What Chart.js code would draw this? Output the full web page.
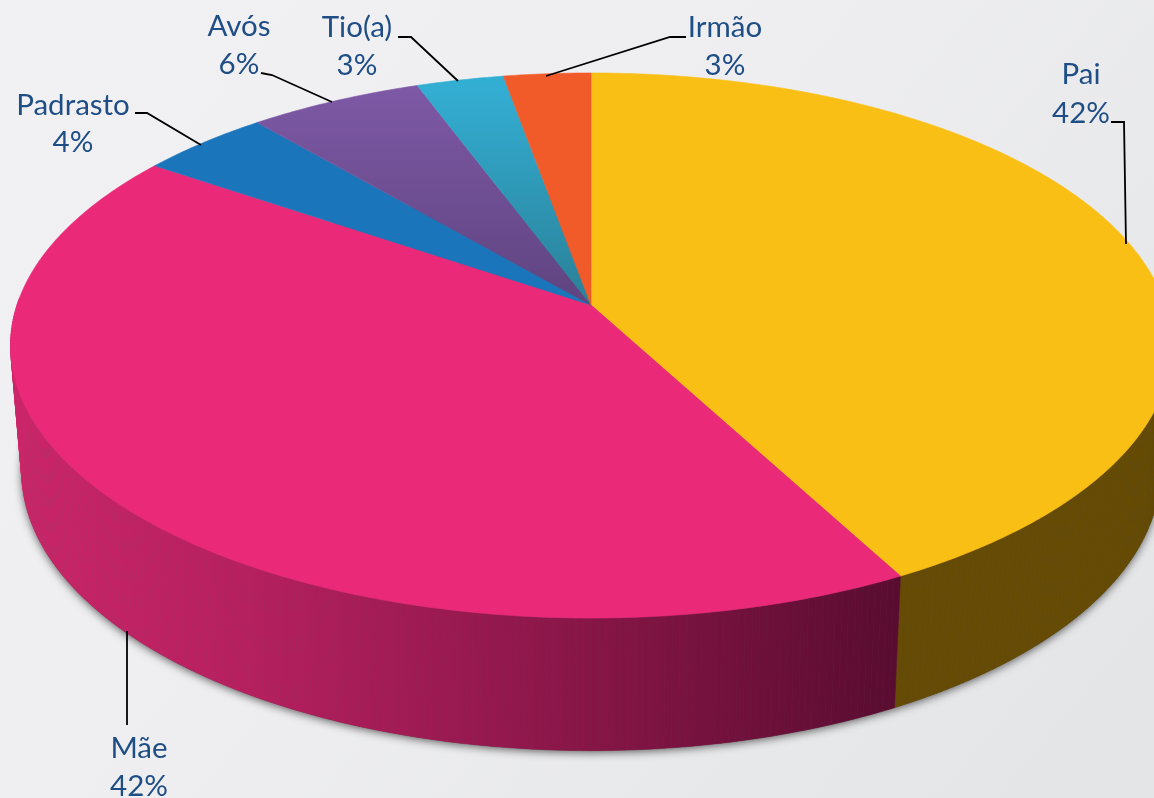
<!DOCTYPE html>
<html><head><meta charset="utf-8">
<style>html,body{margin:0;padding:0;background:#eeeef0}#w{width:1154px;height:798px;position:relative}</style>
<script src="https://cdn.jsdelivr.net/npm/chart.js@4"></script>
</head><body><div id="w"><canvas id="c"></canvas></div>
<script>
const categories = ['Pai','Mãe','Padrasto','Avós','Tio(a)','Irmão'];
const values = [42.2,42.3,4.2,5.6,2.8,2.8];
const percentLabels = ['42%','42%','4%','6%','3%','3%'];
const sliceColors = ['#fabf14','#ea2979','#1b75bb','#7e59a6','#33aed3','#f15a29'];
const sliceColorsLow = ['#fabf14','#ea2979','#1b75bb','#5f4480','#2a8098','#f15a29'];

const top3d = {cx:591, cy:305, a:574, b:266.5, k:0.1486};
const low3d = {cx:591, cy:430, a:563, b:273, k:0.1486};
function project(p, ang){
  const u=Math.cos(ang), v=-Math.sin(ang), w=1+p.k*v;
  return [p.cx+p.a*u/w, p.cy-p.b*v/w];
}
function stepAngles(s,e){
  const n=Math.max(4,Math.ceil((e-s)*90)), r=[];
  for(let i=0;i<=n;i++) r.push(s+(e-s)*i/n);
  return r;
}
function arcPts(p,s,e){ return stepAngles(s,e).map(t=>project(p,t)); }
const labelBoxes = [
  {x:1081,y:[74,113],line:[[1111,122],[1124,122],[1126,244]]},
  {x:139,y:[748,786],line:[[127,631],[127,725]]},
  {x:73,y:[105,142],line:[[135,113],[147,113],[201,145]]},
  {x:239,y:[26,64],line:[[261,73],[272,75],[332,102]]},
  {x:357,y:[27,65],line:[[398,37],[411,37],[458,81]]},
  {x:725,y:[27,65],line:[[686,37],[670,37],[546,76]]}
];
const pie3d = {
  id:'pie3d',
  beforeDraw(chart){
    const c=chart.ctx, g=c.createLinearGradient(100,0,1054,798);
    g.addColorStop(0,'#f1f1f3'); g.addColorStop(.45,'#eeeef0'); g.addColorStop(1,'#e4e5e7');
    c.save(); c.fillStyle=g; c.fillRect(0,0,chart.width,chart.height); c.restore();
  },
  beforeDatasetDraw(chart,args){
    const c=chart.ctx, arcs=chart.getDatasetMeta(args.index).data;
    c.save();
    // soft shadow under the disc
    c.save();
    c.shadowColor='rgba(50,50,50,.75)'; c.shadowBlur=9; c.shadowOffsetY=2; c.fillStyle='#555';
    c.beginPath(); arcPts(low3d,0,Math.PI*2).forEach((q,i)=>i?c.lineTo(q[0],q[1]):c.moveTo(q[0],q[1])); c.closePath(); c.fill();
    c.restore();
    // walls: front-facing thin quads of each slice
    arcs.forEach((el,i)=>{
      const angs=stepAngles(el.startAngle,el.endAngle);
      let fill='#654b05';
      if(i===1){
        const g=c.createLinearGradient(10,0,893,0);
        g.addColorStop(0,'#cb2569'); g.addColorStop(.27,'#b5205f');
        g.addColorStop(.6,'#8e174a'); g.addColorStop(1,'#5a0c30');
        fill=g;
      } else if(i>1) fill=sliceColorsLow[i];
      c.fillStyle=fill; c.strokeStyle=fill; c.lineWidth=.5;
      for(let j=0;j<angs.length-1;j++){
        if(Math.sin(angs[j])<-0.02 && Math.sin(angs[j+1])<-0.02) continue;
        const t0=project(top3d,angs[j]),t1=project(top3d,angs[j+1]),l0=project(low3d,angs[j]),l1=project(low3d,angs[j+1]);
        c.beginPath();
        c.moveTo(t0[0],t0[1]); c.lineTo(t1[0],t1[1]);
        c.lineTo(l1[0],l1[1]); c.lineTo(l0[0],l0[1]);
        c.closePath(); c.fill(); c.stroke();
      }
    });
    // top face
    arcs.forEach((el,i)=>{
      const g=c.createLinearGradient(0,85,0,305);
      g.addColorStop(0,sliceColors[i]); g.addColorStop(1,sliceColorsLow[i]);
      c.fillStyle=g; c.strokeStyle=g; c.lineWidth=.6;
      c.beginPath(); c.moveTo(top3d.cx,top3d.cy);
      arcPts(top3d,el.startAngle,el.endAngle).forEach(q=>c.lineTo(q[0],q[1]));
      c.closePath(); c.fill(); c.stroke();
    });
    // leaders and labels
    c.strokeStyle='#000'; c.lineWidth=1.8; c.lineJoin='miter';
    labelBoxes.forEach(b=>{
      c.beginPath(); b.line.forEach((q,j)=>j?c.lineTo(q[0],q[1]):c.moveTo(q[0],q[1])); c.stroke();
    });
    c.fillStyle='#1f4e86'; c.font='29.5px Lato'; c.textAlign='center'; c.textBaseline='middle';
    labelBoxes.forEach((b,i)=>{
      c.fillText(categories[i],b.x,b.y[0]);
      c.fillText(percentLabels[i],b.x,b.y[1]);
    });
    c.restore();
    return false;
  }
};
new Chart(document.getElementById('c'),{
  type:'pie',
  data:{labels:categories,datasets:[{data:values,backgroundColor:sliceColors,borderWidth:0}]},
  options:{responsive:true,maintainAspectRatio:false,animation:false,
    plugins:{legend:{display:false},tooltip:{enabled:false}}},
  plugins:[pie3d]
});
</script></body></html>
